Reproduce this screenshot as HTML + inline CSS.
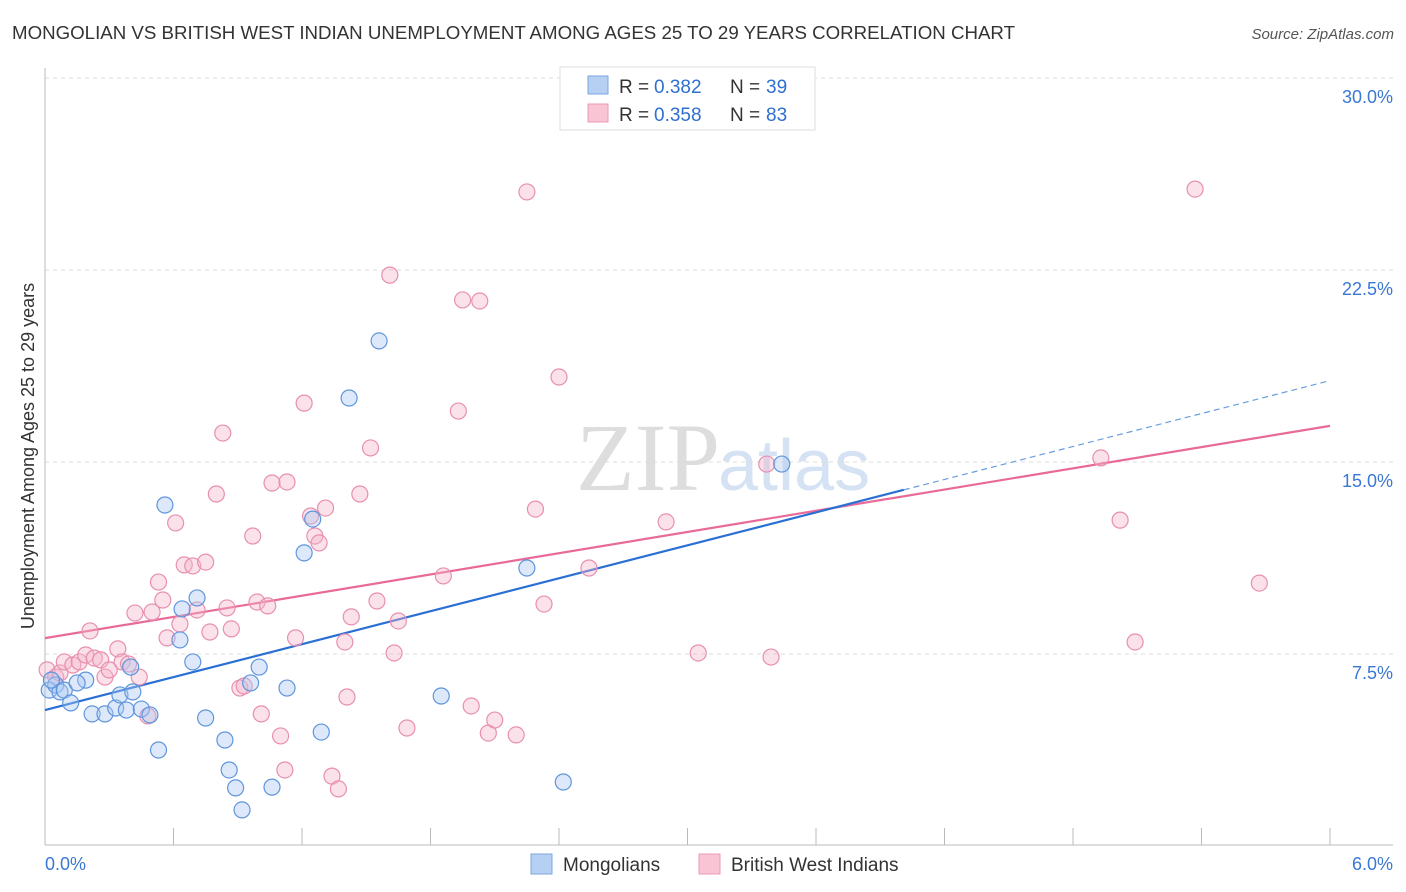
<!DOCTYPE html>
<html><head><meta charset="utf-8">
<style>
body{margin:0;background:#fff;font-family:"Liberation Sans",sans-serif;}
#wrap{position:relative;width:1406px;height:892px;overflow:hidden;}
</style></head>
<body>
<div id="wrap">
<svg id="svg" width="1406" height="892">
<text x="12" y="39" font-size="18" fill="#333" textLength="1003" lengthAdjust="spacingAndGlyphs">MONGOLIAN VS BRITISH WEST INDIAN UNEMPLOYMENT AMONG AGES 25 TO 29 YEARS CORRELATION CHART</text>
<text x="1394" y="39" font-size="15" fill="#555" text-anchor="end" font-style="italic">Source: ZipAtlas.com</text>
<text x="720" y="490" font-size="96" fill="#ddd" text-anchor="end" font-family="Liberation Serif">ZIP</text>
<text x="718" y="490" font-size="72" fill="#d4e2f4">atlas</text>
<g id="grid"></g>
<g id="axes"></g>
<g id="lines"></g>
<g id="pts"></g>
<text transform="translate(34,456) rotate(-90)" font-size="18" fill="#333" text-anchor="middle">Unemployment Among Ages 25 to 29 years</text>
<g>
<rect x="560" y="67" width="255" height="63" fill="#fff" stroke="#ddd"/>
<rect x="588" y="76" width="20" height="18" fill="#b6d0f4" stroke="#7aa6e0"/>
<rect x="588" y="104" width="20" height="18" fill="#f9c4d4" stroke="#e99ab6"/>
<text x="619" y="93" font-size="19" fill="#333">R =</text>
<text x="654" y="93" font-size="19" fill="#2e6fd0">0.382</text>
<text x="730" y="93" font-size="19" fill="#333">N =</text>
<text x="766" y="93" font-size="19" fill="#2e6fd0">39</text>
<text x="619" y="121" font-size="19" fill="#333">R =</text>
<text x="654" y="121" font-size="19" fill="#2e6fd0">0.358</text>
<text x="730" y="121" font-size="19" fill="#333">N =</text>
<text x="766" y="121" font-size="19" fill="#2e6fd0">83</text>
</g>
<g>
<rect x="531" y="854" width="21" height="20" fill="#b6d0f4" stroke="#7aa6e0"/>
<text x="563" y="871" font-size="19" fill="#333">Mongolians</text>
<rect x="699" y="854" width="21" height="20" fill="#f9c4d4" stroke="#e99ab6"/>
<text x="731" y="871" font-size="19" fill="#333">British West Indians</text>
</g>
</svg>
</div>
<script>
const yTicks=[7.5,15,22.5,30];
const yTickLabels=["7.5%","15.0%","22.5%","30.0%"];
const xTickCount=10;
const blueX=[.02,.05,.07,.03,.09,.12,.19,.15,.22,.28,.33,.35,.38,.41,.40,.45,.49,.53,.56,.63,.64,.69,.71,.75,.84,.86,.89,.92,.96,1.00,1.06,1.13,1.21,1.25,1.29,1.42,1.56,1.85,2.25,2.42,3.44];
const blueY=[6.09,6.29,6.02,6.48,6.09,5.59,6.48,6.37,5.16,5.16,5.39,5.90,5.31,6.02,6.99,5.35,5.12,3.75,13.32,8.05,9.26,7.19,9.69,5.00,4.14,2.97,2.27,1.41,6.37,6.99,2.30,6.17,11.45,12.77,4.45,17.50,19.73,5.86,10.86,2.50,14.92];
const pinkX=[.01,.05,.07,.09,.13,.16,.19,.21,.23,.26,.28,.30,.34,.36,.39,.42,.44,.48,.50,.53,.55,.57,.61,.63,.65,.69,.71,.75,.77,.80,.83,.85,.87,.91,.93,.97,.99,1.01,1.04,1.10,1.12,1.06,1.13,1.17,1.21,1.24,1.26,1.28,1.31,1.34,1.37,1.40,1.41,1.43,1.47,1.52,1.55,1.61,1.63,1.65,1.69,1.86,1.93,1.95,1.99,2.03,2.07,2.10,2.20,2.25,2.29,2.33,2.40,2.54,2.90,3.05,3.37,3.39,4.93,5.02,5.09,5.37,5.67];
const pinkY=[6.88,6.60,6.76,7.19,7.07,7.19,7.46,8.40,7.34,7.27,6.60,6.88,7.70,7.19,7.11,9.10,6.60,5.08,9.14,10.31,9.61,8.13,12.62,8.67,10.98,10.94,9.22,11.09,8.36,13.75,16.13,9.30,8.48,6.17,6.25,12.11,9.53,5.16,9.38,4.30,2.97,14.18,14.22,8.13,17.30,12.89,12.11,11.84,13.20,2.73,2.23,7.97,5.82,8.95,13.75,15.55,9.57,22.30,7.54,8.79,4.61,10.55,16.99,21.33,5.47,21.29,4.41,4.92,4.34,25.55,13.16,9.45,18.32,10.86,12.66,7.54,14.92,7.38,15.16,12.73,7.97,25.66,10.27];
const blueTrend=[5.31,2.145];
const pinkTrend=[8.12,1.382];
const blueSolidEnd=4.01;
const X0=45,X1=1330,Y0=846,YK=768/30;
const sx=v=>X0+v*(X1-X0)/6, sy=v=>Y0-v*YK;
const NS="http://www.w3.org/2000/svg";
function mk(t,a,p){const e=document.createElementNS(NS,t);for(const k in a)e.setAttribute(k,a[k]);p.appendChild(e);return e;}
const grid=document.getElementById('grid'),axes=document.getElementById('axes'),lines=document.getElementById('lines'),pts=document.getElementById('pts');
yTicks.forEach((t,i)=>{
 const l=mk('line',{x1:45,x2:1393,y1:sy(t),y2:sy(t),stroke:'#ddd','stroke-dasharray':'4,4'},grid);
 
 
 const tx=mk('text',{x:1393,y:sy(t)+25,'font-size':18,fill:'#3a78d4','text-anchor':'end'},axes);
 tx.textContent=yTickLabels[i];
 
 
});
const ax=mk('line',{x1:45,x2:45,y1:68,y2:845,stroke:'#bbb'},axes);


const bx=mk('line',{x1:45,x2:1393,y1:845,y2:845,stroke:'#bbb'},axes);


for(let i=0;i<=xTickCount;i++){
 const t=mk('line',{x1:sx(i*0.6),x2:sx(i*0.6),y1:828,y2:845,stroke:'#bbb'},axes);
 
 
}
[[0,"0.0%",45,'start'],[6,"6.0%",1393,'end']].forEach(d=>{
 const t=mk('text',{x:d[2],y:870,'font-size':18,fill:'#3a78d4','text-anchor':d[3]},axes);
 t.textContent=d[1];
 
 
});
function pts_(xs,ys,fill,stroke,name){
 xs.forEach((x,i)=>{
  const c=mk('circle',{cx:sx(x),cy:sy(ys[i]),r:8,fill:fill,'fill-opacity':0.4,stroke:stroke,'stroke-width':1.2},pts);
  
  
 });
}
pts_(pinkX,pinkY,'#f5b3c8','#e88fb0','british-west-indian-point');
pts_(blueX,blueY,'#a9c8f2','#5f95dc','mongolian-point');
const pl=mk('line',{x1:sx(0),y1:sy(pinkTrend[0]),x2:sx(6),y2:sy(pinkTrend[0]+6*pinkTrend[1]),stroke:'#e86a98','stroke-width':2.2},lines);


const bl=mk('line',{x1:sx(0),y1:sy(blueTrend[0]),x2:sx(blueSolidEnd),y2:sy(blueTrend[0]+blueSolidEnd*blueTrend[1]),stroke:'#2a6fd4','stroke-width':2.2},lines);


const bd=mk('line',{x1:sx(blueSolidEnd),y1:sy(blueTrend[0]+blueSolidEnd*blueTrend[1]),x2:sx(6),y2:sy(blueTrend[0]+6*blueTrend[1]),stroke:'#6a9ee0','stroke-width':1.2,'stroke-dasharray':'6,4'},lines);


</script>
</body></html>
